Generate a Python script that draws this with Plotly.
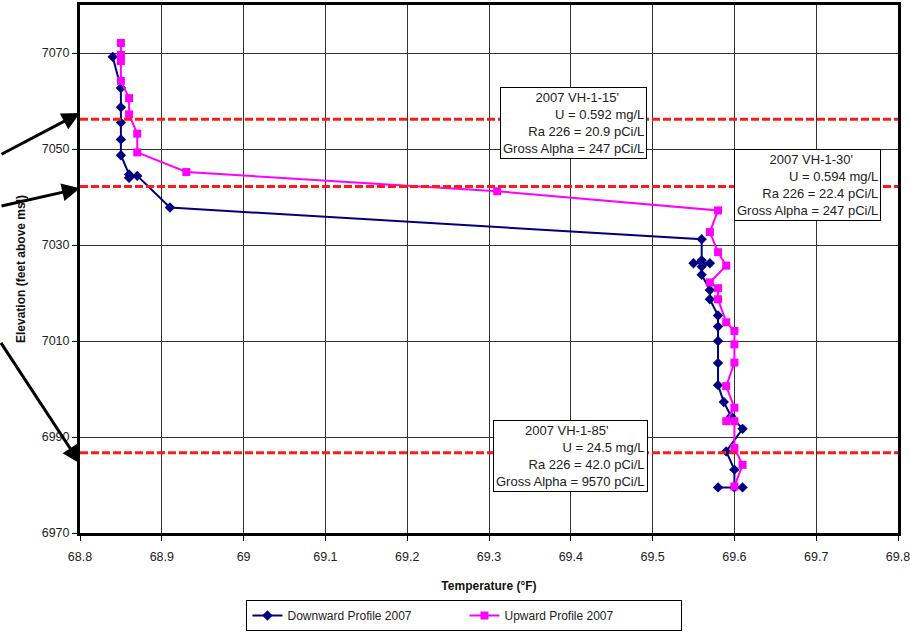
import plotly.graph_objects as go

# Downward profile 2007 (temperature °F, elevation ft msl)
down_temp = [68.84, 68.85, 68.85, 68.85, 68.85, 68.85, 68.86, 68.86, 68.87, 68.91,
             69.56, 69.56, 69.55, 69.57, 69.56, 69.56, 69.57, 69.57, 69.58, 69.58,
             69.58, 69.58, 69.58, 69.587, 69.596, 69.61, 69.59, 69.60, 69.60, 69.58, 69.61]
down_elev = [7069.2, 7062.7, 7058.7, 7055.5, 7052.0, 7048.7, 7044.7, 7044.0, 7044.4, 7037.8,
             7031.2, 7026.8, 7026.2, 7026.2, 7025.5, 7023.8, 7020.6, 7018.7, 7015.3, 7013.0,
             7010.0, 7005.4, 7000.8, 6997.3, 6994.3, 6991.7, 6987.0, 6983.2, 6979.5, 6979.5, 6979.5]

# Upward profile 2007
up_temp = [68.85, 68.85, 68.85, 68.85, 68.86, 68.86, 68.87, 68.87, 68.93, 69.31,
           69.58, 69.57, 69.58, 69.59, 69.57, 69.58, 69.58, 69.59, 69.60, 69.60,
           69.60, 69.59, 69.60, 69.59, 69.60, 69.60, 69.61, 69.60]
up_elev = [7072.1, 7069.6, 7068.3, 7064.2, 7060.6, 7057.2, 7053.2, 7049.3, 7045.2, 7041.2,
           7037.2, 7032.7, 7028.5, 7025.7, 7022.2, 7021.0, 7018.7, 7013.9, 7012.1, 7009.3,
           7005.5, 7000.6, 6996.1, 6993.3, 6993.3, 6987.7, 6984.2, 6979.7]

# Sample elevations (red dashed lines) and their labels
sample_elev = [7056.2, 7042.2, 6986.7]
sample_labels = [
    "2007 VH-1-15'\u00a0\u00a0\u00a0\u00a0\u00a0\u00a0\u00a0<br>U = 0.592 mg/L<br>Ra 226 = 20.9 pCi/L<br>Gross Alpha = 247 pCi/L",
    "2007 VH-1-30'\u00a0\u00a0\u00a0\u00a0\u00a0\u00a0\u00a0<br>U = 0.594 mg/L<br>Ra 226 = 22.4 pCi/L<br>Gross Alpha = 247 pCi/L",
    "2007 VH-1-85'\u00a0\u00a0\u00a0\u00a0\u00a0\u00a0\u00a0\u00a0\u00a0\u00a0<br>U = 24.5 mg/L<br>Ra 226 = 42.0 pCi/L<br>Gross Alpha = 9570 pCi/L",
]
label_pos = [(69.403, 7055.5), (69.689, 7042.6), (69.40, 6986.1)]

x_ticks = [68.8, 68.9, 69.0, 69.1, 69.2, 69.3, 69.4, 69.5, 69.6, 69.7, 69.8]
x_ticktext = ["68.8", "68.9", "69", "69.1", "69.2", "69.3", "69.4", "69.5", "69.6", "69.7", "69.8"]
y_ticks = [6970, 6990, 7010, 7030, 7050, 7070]

FONT = "Arial, Liberation Sans, sans-serif"

fig = go.Figure()
fig.add_trace(go.Scatter(
    x=down_temp, y=down_elev, mode="lines+markers", name="Downward Profile 2007",
    line=dict(color="#000080", width=2),
    marker=dict(symbol="diamond", size=8, color="#000080"),
))
fig.add_trace(go.Scatter(
    x=up_temp, y=up_elev, mode="lines+markers", name="Upward Profile 2007",
    line=dict(color="#FF00FF", width=2),
    marker=dict(symbol="square", size=8, color="#FF00FF"),
))

for e in sample_elev:
    fig.add_shape(type="line", xref="paper", yref="y", x0=0, x1=1, y0=e, y1=e,
                  line=dict(color="#FF1A1A", width=3, dash="8px,3px"), layer="above")

for (lx, ly), txt in zip(label_pos, sample_labels):
    fig.add_annotation(x=lx, y=ly, xref="x", yref="y", text=txt, showarrow=False,
                       align="right", bgcolor="white", bordercolor="black", borderwidth=1,
                       borderpad=2, font=dict(family=FONT, size=13, color="#222"))

# arrows coming from the left edge
arrow_heads = [7057.5, 7041.8, 6984.5]
arrow_tails = [(-80, 42), (-80, 18), (-80, -122)]
for hy, (ax, ay) in zip(arrow_heads, arrow_tails):
    fig.add_annotation(x=0, y=hy, xref="paper", yref="y", ax=ax, ay=ay, axref="pixel", ayref="pixel",
                       text="", showarrow=True, arrowhead=2, arrowsize=1.2, arrowwidth=3,
                       arrowcolor="black")

fig.update_layout(
    width=910, height=634,
    margin=dict(l=80, r=12, t=5, b=101, autoexpand=False),
    paper_bgcolor="white", plot_bgcolor="white",
    font=dict(family=FONT, size=12, color="#222"),
    showlegend=True,
    legend=dict(orientation="h", x=0.47, xanchor="center", y=-0.127, yanchor="top",
                bordercolor="black", borderwidth=1, bgcolor="white",
                font=dict(family=FONT, size=12, color="#222"),
                entrywidth=172, itemwidth=30),
    xaxis=dict(range=[68.8, 69.8], tickvals=x_ticks, ticktext=x_ticktext, automargin=False,
               showgrid=True, gridcolor="#333", gridwidth=1, zeroline=False,
               showline=True, linecolor="black", linewidth=3, mirror=True,
               ticks="outside", ticklen=5, tickcolor="black", ticklabelstandoff=5,
               ticklabeloverflow="allow",
               tickfont=dict(size=12.5),
               title=dict(text="<b>Temperature (°F)</b>", standoff=19,
                          font=dict(family=FONT, size=12, color="#111"))),
    yaxis=dict(range=[6970, 7080], tickvals=y_ticks, automargin=False,
               showgrid=True, gridcolor="#333", gridwidth=1, zeroline=False,
               showline=True, linecolor="black", linewidth=3, mirror=True,
               ticks="outside", ticklen=5, tickcolor="black",
               tickfont=dict(size=12.5),
               title=dict(text="<b>Elevation (feet above msl)</b>", standoff=14,
                          font=dict(family=FONT, size=12, color="#111"))),
)

fig.write_html("out.html")
